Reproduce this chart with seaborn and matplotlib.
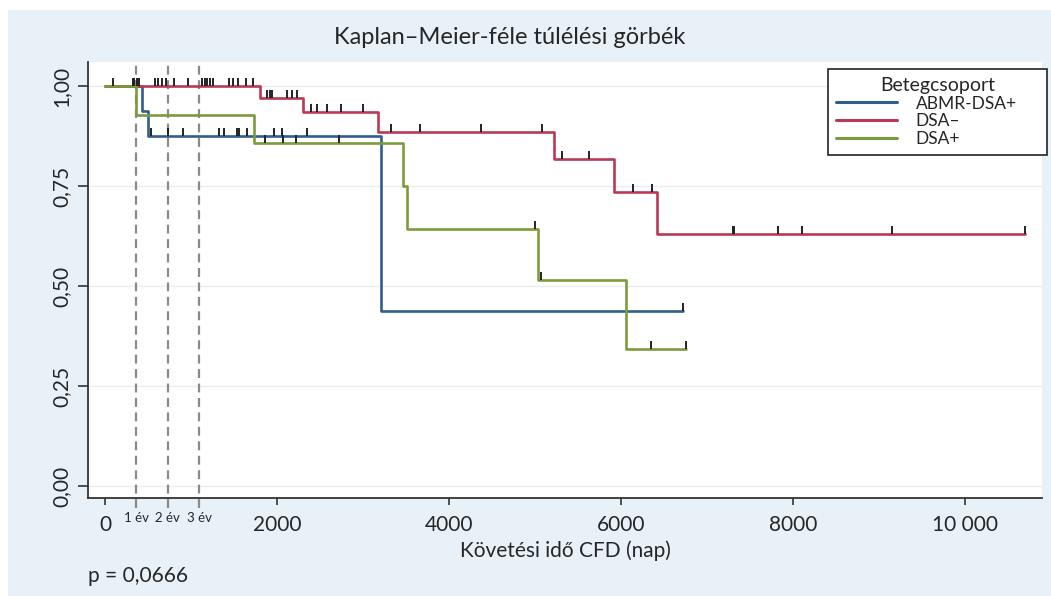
import numpy as np
import pandas as pd
import matplotlib
matplotlib.use("Agg")
import matplotlib.pyplot as plt
from matplotlib.path import Path
from matplotlib.markers import MarkerStyle
from matplotlib.patches import Rectangle
import seaborn as sns

# ---------------- data ----------------
groups = ["ABMR-DSA+", "DSA–", "DSA+"]
colors = ["#2f5f8a", "#b83a55", "#7c9b3c"]

abmr_t = [0, 434, 504, 3209, 6717]
abmr_s = [1.0, 0.9375, 0.875, 0.4375, 0.4375]
abmr_cens = [531, 737, 903, 1329, 1387, 1531, 1561, 1655, 1965, 2054, 2344, 6717]

dsaneg_t = [0, 1800, 2300, 3170, 5220, 5920, 6420, 10700]
dsaneg_s = [1.0, 0.970, 0.935, 0.885, 0.8175, 0.735, 0.630, 0.630]
dsaneg_cens = [89, 322, 340, 367, 399, 580, 620, 659, 709, 806, 969, 1124, 1163,
               1190, 1221, 1252, 1446, 1485, 1550, 1640, 1717, 1880, 1919, 1938,
               2112, 2171, 2229, 2392, 2461, 2578, 2740, 2996, 3322, 3663, 4368,
               5078, 5310, 5632, 6143, 6364, 7298, 7318, 7822, 8101, 9147, 10698]

dsapos_t = [0, 360, 1733, 3470, 3510, 5040, 6060, 6756]
dsapos_s = [1.0, 0.9286, 0.857, 0.75, 0.643, 0.514, 0.343, 0.343]
dsapos_cens = [1860, 2066, 2225, 2718, 5000, 5070, 6349, 6756]

year_pos = [365, 730, 1095]
year_labels = ["1 év", "2 év", "3 év"]
x_ticks = [0, 2000, 4000, 6000, 8000, 10000]
x_tick_labels = ["0", "2000", "4000", "6000", "8000", "10 000"]
y_ticks = [0, 0.25, 0.5, 0.75, 1.0]
y_tick_labels = ["0,00", "0,25", "0,50", "0,75", "1,00"]

title = "Kaplan–Meier-féle túlélési görbék"
xlabel = "Követési idő CFD (nap)"
legend_title = "Betegcsoport"
p_text = "p = 0,0666"

# ---------------- build tables ----------------
curves = pd.concat([
    pd.DataFrame({"t": abmr_t, "S": abmr_s, "g": groups[0]}),
    pd.DataFrame({"t": dsaneg_t, "S": dsaneg_s, "g": groups[1]}),
    pd.DataFrame({"t": dsapos_t, "S": dsapos_s, "g": groups[2]}),
], ignore_index=True)


def cens_df(ts, ss, cens, g):
    ts = np.asarray(ts)
    ss = np.asarray(ss)
    c = np.asarray(cens)
    idx = np.searchsorted(ts, c, side="right") - 1
    return pd.DataFrame({"t": c, "S": ss[idx], "g": g})


cens = pd.concat([
    cens_df(abmr_t, abmr_s, abmr_cens, groups[0]),
    cens_df(dsaneg_t, dsaneg_s, dsaneg_cens, groups[1]),
    cens_df(dsapos_t, dsapos_s, dsapos_cens, groups[2]),
], ignore_index=True)

# ---------------- styling ----------------
sns.set_style("white")
plt.rcParams["font.family"] = ["Lato", "DejaVu Sans"]

W, H = 1051, 596
fig = plt.figure(figsize=(W / 100, H / 100), dpi=100, facecolor="white")
fig.patches.append(Rectangle((8 / W, 0), 1, 1 - 10 / H, transform=fig.transFigure,
                             facecolor="#e9f1f8", edgecolor="none", zorder=-10))

ax = fig.add_axes([88 / W, 1 - 498 / H, (1042 - 88) / W, (498 - 62) / H])
ax.set_facecolor("white")

palette = dict(zip(groups, colors))
sns.lineplot(data=curves, x="t", y="S", hue="g", hue_order=groups, palette=palette,
             estimator=None, drawstyle="steps-post", linewidth=1.9, ax=ax,
             legend=True, zorder=3)

tick_marker = MarkerStyle(Path([(0, 0), (0, 1)], [Path.MOVETO, Path.LINETO]))
sns.scatterplot(data=cens, x="t", y="S", marker=tick_marker, s=125,
                color="#222222", edgecolor="#222222", linewidth=1.4, ax=ax,
                legend=False, zorder=4)

for xp in year_pos:
    ax.axvline(xp, ymin=-0.022, ymax=1.0, color="#8a8a8a", linestyle=(0, (4, 2.5)),
               linewidth=1.6, clip_on=False, zorder=2)

ax.set_xlim(-198, 10895)
ax.set_ylim(-0.03, 1.06)

ax.set_xticks(x_ticks)
ax.set_xticklabels(x_tick_labels, fontsize=15)
ax.set_xticks(year_pos, minor=True)
ax.set_xticklabels(year_labels, minor=True, fontsize=9.5)
ax.set_yticks(y_ticks)
ax.set_yticklabels(y_tick_labels, fontsize=15, rotation=90, va="center")

ax.tick_params(axis="x", which="major", direction="out", length=5, width=1.2,
               color="#333333", pad=7, bottom=True)
ax.tick_params(axis="x", which="minor", length=0, pad=10, bottom=True)
ax.tick_params(axis="y", direction="out", length=7, width=1.2, color="#333333",
               pad=5, left=True)

ax.grid(axis="y", color="#ececec", linewidth=1.0)
ax.grid(axis="x", visible=False)
ax.set_axisbelow(True)

for side in ["top", "right"]:
    ax.spines[side].set_visible(False)
for side in ["left", "bottom"]:
    ax.spines[side].set_color("#333333")
    ax.spines[side].set_linewidth(1.3)

ax.set_ylabel("")
ax.set_xlabel(xlabel, fontsize=15)
ax.xaxis.set_label_coords(0.5, -(551 - 498) / 436)
ax.xaxis.label.set_va("center")

handles, labels = ax.get_legend_handles_labels()
ax.get_legend().remove()
leg = fig.legend(handles, labels, title=legend_title, loc="upper left",
                 bbox_to_anchor=(828 / W, 1 - 153 / H, 219 / W, 84 / H),
                 mode="expand", borderaxespad=0,
                 fontsize=12.5, title_fontsize=14, frameon=True, fancybox=False,
                 edgecolor="#222222", facecolor="white", framealpha=1,
                 handlelength=3.5, labelspacing=0.1, handletextpad=1.1,
                 borderpad=0.45)
leg.get_frame().set_linewidth(1.2)
for lh in leg.get_lines():
    lh.set_linewidth(2.2)

fig.text(510 / W, 1 - 37 / H, title, ha="center", va="center", fontsize=17)
fig.text(88 / W, 1 - 576 / H, p_text, ha="left", va="center", fontsize=15)

fig.savefig("out.png", dpi=100, facecolor=fig.get_facecolor())
